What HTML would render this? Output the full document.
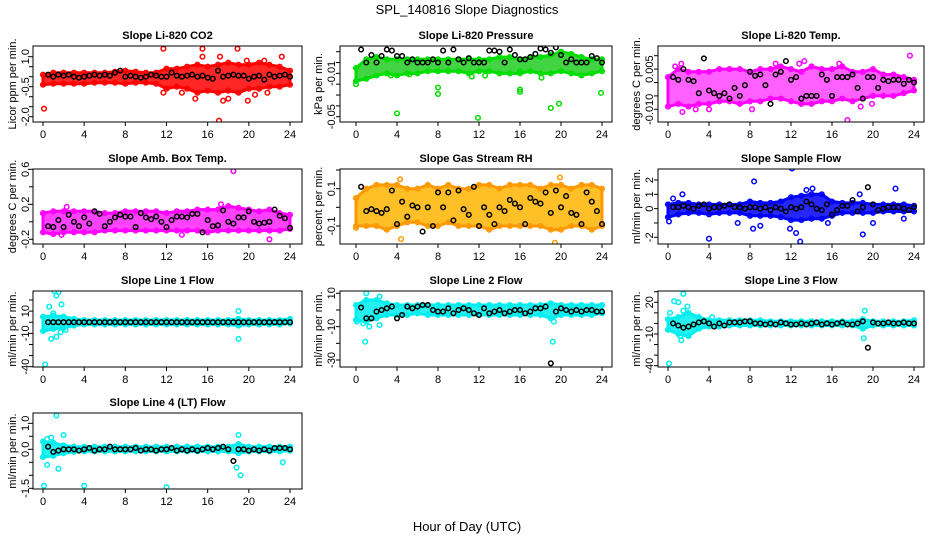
<!DOCTYPE html>
<html><head><meta charset="utf-8"><style>
body{margin:0;background:#fff}
svg{display:block;font-family:"Liberation Sans",sans-serif}
</style></head><body>
<svg id="c" width="936" height="540" xmlns="http://www.w3.org/2000/svg">
<rect width="936" height="540" fill="#fff"/>
<text x="467" y="14" font-size="13" text-anchor="middle">SPL_140816  Slope Diagnostics</text>
<text x="467" y="531" font-size="13" text-anchor="middle">Hour of Day (UTC)</text>
</svg>
<script>
const xTicks=[0,4,8,12,16,20,24];
const co2Lo=[-0.4,-0.35,-0.35,-0.35,-0.35,-0.3,-0.3,-0.3,-0.35,-0.3,-0.3,-0.35,-0.6,-0.5,-0.6,-0.8,-0.7,-0.8,-0.7,-0.8,-0.6,-0.6,-0.5,-0.5,-0.4];
const co2Hi=[0.1,0.2,0.2,0.2,0.2,0.2,0.2,0.25,0.3,0.25,0.2,0.2,0.4,0.4,0.5,0.6,0.5,0.6,0.7,0.6,0.6,0.7,0.6,0.5,0.3];
const co2Out=[[11.7,1.4],[15.5,1.4],[18.9,1.4],[17.1,-2.2],[0.1,-1.6],[15.5,1.0],[17.2,1.0],[11.7,-0.8],[13.5,-0.8],[14.8,-1.1],[17.5,-1.2],[18.0,-1.1],[19.9,-1.2],[20.6,-0.9],[21.8,-0.8],[23.2,1.0],[19.8,0.8],[21.5,0.8]];
const co2Blk=[0.1,0.0,0.1,0.05,0.1,0.0,-0.05,0.0,0.05,0.1,0.05,0.1,0.05,0.2,0.3,0.0,0.05,0.0,-0.05,0.0,0.1,0.05,0.0,0.0,0.2,0.05,0.0,0.05,0.1,0.0,0.05,-0.05,-0.1,0.3,0.0,0.05,0.1,0.05,0.05,-0.1,0.0,0.05,-0.15,0.1,0.0,0.05,0.1,0.0];
const presLo=[-0.017,-0.015,-0.012,-0.01,-0.012,-0.01,-0.01,-0.008,-0.008,-0.008,-0.008,-0.01,-0.008,-0.008,-0.01,-0.01,-0.01,-0.008,-0.01,-0.01,-0.008,-0.01,-0.012,-0.01,-0.008];
const presHi=[-0.005,0.003,0.005,0.003,0.003,0.003,0.003,0.003,0.003,0.003,0.003,0.003,0.003,0.003,0.005,0.005,0.003,0.005,0.005,0.007,0.01,0.008,0.005,0.003,0.003];
const presOut=[[0,-0.02],[4,-0.047],[8,-0.023],[8,-0.029],[11.9,-0.051],[16,-0.025],[16,-0.027],[19,-0.042],[19.8,-0.038],[23.9,-0.028],[3.4,-0.012],[5.2,-0.011],[11.3,-0.013],[12.6,-0.012],[18.1,-0.014],[16,-0.008]];
const presBlk=[0.012,0,0.007,0,0.006,0.012,0.011,0.006,0.006,0,0.003,0,0,0,0.003,0,0.011,0,0.012,0.003,0,0.004,0,0,0,0.011,0.011,0.010,0,0.012,0.007,0.003,0.003,0.005,0.008,0.013,0.012,0.009,0.014,0.007,0,0.003,0,0,0,0.006,0.004,0];
const tempLo=[-0.009,-0.008,-0.009,-0.008,-0.008,-0.007,-0.007,-0.008,-0.007,-0.007,-0.006,-0.006,-0.007,-0.008,-0.008,-0.007,-0.007,-0.006,-0.007,-0.006,-0.005,-0.005,-0.005,-0.004,-0.003];
const tempHi=[0.002,0.005,0.004,0.004,0.004,0.005,0.005,0.005,0.004,0.005,0.005,0.006,0.005,0.004,0.006,0.005,0.005,0.006,0.004,0.004,0.005,0.003,0.003,0.002,0.001];
const tempOut=[[1.4,-0.011],[2.7,-0.010],[4.0,-0.010],[8.2,-0.010],[17.5,-0.014],[23.6,0.010],[1.3,0.007],[0.7,0.006],[12.8,0.007],[13.3,0.008],[16.7,0.007],[18.8,-0.009],[19.9,-0.008],[10.5,0.007]];
const tempBlk=[0.002,0.001,0.005,0.001,0.0005,-0.004,0.009,-0.003,-0.004,-0.005,-0.004,-0.006,-0.002,-0.005,-0.001,0.004,0.0025,0.003,-0.001,-0.008,0.003,0.004,0.008,0.001,0.002,-0.006,-0.005,-0.005,-0.005,0.003,0.001,-0.005,0.002,0.002,0.002,0.003,-0.002,-0.006,0.002,0.002,-0.002,0.001,0.0005,0.001,0.001,-0.0005,0.001,0.0];
const ambLo=[-0.12,-0.14,-0.12,-0.12,-0.12,-0.12,-0.1,-0.1,-0.1,-0.1,-0.1,-0.1,-0.1,-0.1,-0.1,-0.1,-0.12,-0.1,-0.1,-0.1,-0.1,-0.1,-0.1,-0.1,-0.08];
const ambHi=[0.1,0.12,0.12,0.12,0.12,0.12,0.1,0.1,0.12,0.12,0.12,0.12,0.1,0.12,0.12,0.14,0.14,0.14,0.18,0.16,0.14,0.12,0.14,0.1,0.08];
const ambOut=[[18.5,0.58],[22,-0.2],[1.8,-0.15],[2.3,0.17],[13.5,-0.15],[17.3,0.2]];
const ambBlk=[-0.05,-0.06,0.02,-0.06,0.08,0.0,-0.05,0.05,-0.02,0.12,0.09,-0.05,0.0,0.05,0.08,0.06,0.06,-0.06,0.10,0.05,0.03,0.06,0.0,-0.06,0.02,0.06,0.06,0.05,0.09,0.09,-0.12,0.02,-0.05,-0.04,0.13,0.0,-0.02,0.05,0.05,0.12,0.0,-0.02,-0.01,0.0,0.14,0.07,0.04,-0.07];
const rhLo=[-0.1,-0.1,-0.1,-0.12,-0.1,-0.08,-0.08,-0.1,-0.1,-0.08,-0.1,-0.1,-0.1,-0.12,-0.1,-0.1,-0.1,-0.1,-0.1,-0.12,-0.12,-0.1,-0.1,-0.12,-0.1];
const rhHi=[0.05,0.1,0.12,0.12,0.12,0.1,0.1,0.12,0.1,0.12,0.1,0.1,0.12,0.12,0.1,0.12,0.12,0.12,0.1,0.12,0.12,0.1,0.12,0.12,0.1];
const rhOut=[[4.4,-0.17],[19.4,-0.19],[19.9,0.16],[4.3,0.15],[0.0,-0.11]];
const rhBlk=[0.11,-0.02,-0.01,-0.02,-0.03,-0.01,0.09,-0.09,0.03,-0.05,0.01,0.0,-0.13,0.0,-0.1,0.08,0.0,0.08,-0.07,0.09,-0.01,-0.04,0.11,-0.1,0.0,-0.04,-0.09,0.0,-0.02,0.04,0.02,0.0,-0.09,0.05,0.03,0.02,0.08,-0.03,0.09,0.0,0.06,-0.03,-0.04,-0.09,0.08,0.03,-0.02,-0.09];
const flowLo=[-0.6,-0.4,-0.3,-0.3,-0.4,-0.3,-0.3,-0.3,-0.5,-0.5,-0.5,-0.6,-0.8,-0.8,-0.7,-0.7,-0.5,-0.3,-0.3,-0.3,-0.3,-0.2,-0.2,-0.2,-0.2];
const flowHi=[0.3,0.4,0.4,0.3,0.3,0.3,0.3,0.3,0.5,0.4,0.4,0.5,0.8,0.9,1.0,1.0,0.5,0.4,0.4,0.4,0.3,0.3,0.3,0.3,0.2];
const flowOut=[[12.1,2.8],[4,-2.1],[12.9,-2.3],[8.4,1.9],[19,-1.8],[22.2,1.4],[0.1,-0.9],[0.5,0.7],[1.4,1.0],[8.3,-1.4],[9.0,-1.2],[12.5,-1.7],[13.5,1.3],[14.1,1.4],[15.6,-1.0],[20,-1.0],[23,-0.7],[6.8,-1.0],[18.7,1.0],[11.9,-1.4]];
const flowBlk=[0.1,0.1,0.2,0.1,0.0,0.2,0.3,0.0,0.1,0.1,0.2,0.3,0.1,0.1,0.0,0.1,0.1,0.0,0.1,-0.1,0.1,0.0,-0.2,0.1,0.0,0.1,0.5,0.3,0.0,-0.1,0.3,-0.4,-0.1,0.2,0.2,0.6,-0.2,0.1,1.5,0.3,-0.1,0.0,0.1,0.1,0.1,0.0,-0.1,0.1];
const l1Lo=[-8,-6,-5,-3,-2,-2,-2,-2,-2,-2,-2,-2,-2,-2,-2,-2,-2,-2,-2,-3,-2,-2,-2,-2,-1];
const l1Hi=[5,6,5,3,2,2,2,2,2,2,2,2,2,2,2,2,2,2,2,3,2,2,2,2,3];
const l1Out=[[0.2,-38],[0.6,14],[1.1,28],[1.5,27],[1.3,24],[1.8,16],[0.8,-15],[1.3,-13],[19,-15],[19,10],[2.2,-7],[1.7,-9],[1.0,8]];
const l1Blk=[0,0,0,0,0,0,0,0,0,0,0,0,0,0,0,0,0,0,0,0,0,0,0,0,0,0,0,0,0,0,0,0,0,0,0,0,0,0,0,0,0,0,0,0,0,0,0,0];
const l2Lo=[-6,-7,-5,-3,-3,-3,-2,-3,-3,-3,-3,-3,-3,-3,-3,-3,-3,-3,-3,-5,-3,-3,-3,-3,-2];
const l2Hi=[3,6,6,4,3,3,3,3,3,3,3,3,3,3,3,3,3,3,3,4,3,3,3,3,3];
const l2Out=[[1,10],[0.9,-19],[1.3,-10],[2.3,-9],[19.2,-19],[19.3,-7],[0.1,-7],[2.3,8],[0.7,-8]];
const l2Blk=[1.5,-5,-5,-1,0,1,2,-5,-3,2,1,2,3,3,0,-1,-1,1,-2,0,1,0,-2,-3,1,-2,-1,0,-2,-1,0,0,-2,-1,1,1,2,-32,-1,1,0,-1,0,-1,0,0,-1,-1];
const l3Lo=[-6,-10,-12,-5,-3,-3,-2,-2,-2,-2,-2,-2,-2,-2,-2,-2,-2,-2,-2,-5,-2,-2,-2,-2,-2];
const l3Hi=[4,6,10,6,3,3,3,3,3,3,2,2,2,2,2,2,2,2,2,4,2,2,2,2,3];
const l3Out=[[0.1,-38],[0.2,10],[0.6,21],[1.0,20],[1.5,28],[1.5,12],[1.9,16],[1.2,-12],[1.3,-16],[4.3,6],[19.2,12],[19.1,-14],[24,3]];
const l3Blk=[0,-2,-4,-3,-1,1,2,0,-3,0,-2,1,1,1,2,2,0,0,-1,0,-1,1,0,-1,-1,0,-1,0,1,-1,0,-1,0,1,-1,-1,0,2,-23,1,0,0,1,0,0,1,0,0];
const l4Lo=[-0.3,-0.25,-0.15,-0.1,-0.08,-0.08,-0.08,-0.08,-0.08,-0.08,-0.08,-0.08,-0.08,-0.08,-0.08,-0.08,-0.08,-0.08,-0.08,-0.15,-0.08,-0.08,-0.08,-0.08,-0.05];
const l4Hi=[0.3,0.25,0.15,0.1,0.1,0.1,0.1,0.1,0.1,0.1,0.1,0.1,0.1,0.1,0.1,0.1,0.1,0.1,0.1,0.2,0.1,0.1,0.1,0.1,0.1];
const l4Out=[[0.1,-1.4],[1.3,1.3],[4,-1.4],[12,-1.45],[1.5,-0.75],[0.4,-0.6],[2.0,0.55],[0.8,0.45],[19,0.55],[19.2,-1.0],[18.8,-0.7],[23.3,-0.5],[0.4,0.4]];
const l4Blk=[0.1,-0.1,-0.05,0.0,0.0,0.0,-0.05,0.0,0.05,-0.05,0.0,0.0,0.1,0.0,0.0,0.0,0.0,0.05,-0.05,0.0,0.0,-0.05,0.0,0.0,0.05,-0.05,0.0,-0.05,0.0,-0.05,0.0,0.05,0.0,0.05,0.1,0.0,-0.45,0.0,0.0,-0.05,0.0,-0.05,0.0,-0.05,0.05,0.05,0.05,0.0];

const NS='http://www.w3.org/2000/svg';
const svg=document.getElementById('c');
const cols=[{bl:33,br:302,x0:43,x1:290,yl:16,tl:29},{bl:340,br:612,x0:356,x1:602,yl:322,tl:335},{bl:658,br:924,x0:668,x1:914,yl:640,tl:653}];
const rows=[{t:46,b:122},{t:169,b:244},{t:291,b:367},{t:413,b:489}];
function mk(tag,attrs,parent){const e=document.createElementNS(NS,tag);for(const k in attrs)e.setAttribute(k,attrs[k]);(parent||svg).appendChild(e);return e;}
const panels=[
{id:'co2',r:0,c:0,title:'Slope Li-820 CO2',ylab:'Licor ppm per min.',v0:1.0,p0:56.7,v1:-2.0,p1:116.7,ticks:[1,0.5,0,-0.5,-1,-1.5,-2],labs:['1.0','-0.5','-2.0'],labv:[1,-0.5,-2],col:'#ff0000',fill:'#ff0000',lo:co2Lo,hi:co2Hi,out:co2Out,blk:co2Blk},
{id:'pressure',r:0,c:1,title:'Slope Li-820 Pressure',ylab:'kPa per min.',v0:0.01,p0:51.7,v1:-0.05,p1:116.7,ticks:[0.01,0,-0.01,-0.02,-0.03,-0.04,-0.05],labs:['-0.01','-0.05'],labv:[-0.01,-0.05],col:'#00dd00',fill:'#22cc22',lo:presLo,hi:presHi,out:presOut,blk:presBlk},
{id:'temp',r:0,c:2,title:'Slope Li-820 Temp.',ylab:'degrees C per min.',v0:0.01,p0:55.7,v1:-0.01,p1:109.3,ticks:[0.01,0.005,0,-0.005,-0.01],labs:['0.005','-0.010'],labv:[0.005,-0.01],col:'#ff00ff',fill:'#ff44ff',lo:tempLo,hi:tempHi,out:tempOut,blk:tempBlk},
{id:'amb-temp',r:1,c:0,title:'Slope Amb. Box Temp.',ylab:'degrees C per min.',v0:0.6,p0:169.3,v1:-0.2,p1:239.3,ticks:[0.6,0.4,0.2,0,-0.2],labs:['0.6','0.2','-0.2'],labv:[0.6,0.2,-0.2],col:'#ff00ff',fill:'#ff22ff',lo:ambLo,hi:ambHi,out:ambOut,blk:ambBlk},
{id:'rh',r:1,c:1,title:'Slope Gas Stream RH',ylab:'percent per min.',v0:0.2,p0:170,v1:-0.1,p1:226,ticks:[0.2,0.1,0,-0.1],labs:['0.1','-0.1'],labv:[0.1,-0.1],col:'#ff9900',fill:'#ffb400',lo:rhLo,hi:rhHi,out:rhOut,blk:rhBlk},
{id:'sample-flow',r:1,c:2,title:'Slope Sample Flow',ylab:'ml/min per min.',v0:2,p0:180,v1:-2,p1:237.3,ticks:[2,1,0,-1,-2],labs:['2','1','0','-2'],labv:[2,1,0,-2],col:'#0000ff',fill:'#0000ff',lo:flowLo,hi:flowHi,out:flowOut,blk:flowBlk},
{id:'line1-flow',r:2,c:0,title:'Slope Line 1 Flow',ylab:'ml/min per min.',v0:20,p0:300,v1:-40,p1:366.7,ticks:[20,10,0,-10,-20,-30,-40],labs:['10','-10','-40'],labv:[10,-10,-40],col:'#00eeee',fill:'#00eeee',lo:l1Lo,hi:l1Hi,out:l1Out,blk:l1Blk},
{id:'line2-flow',r:2,c:1,title:'Slope Line 2 Flow',ylab:'ml/min per min.',v0:10,p0:293.3,v1:-30,p1:360,ticks:[10,0,-10,-20,-30],labs:['10','-10','-30'],labv:[10,-10,-30],col:'#00eeee',fill:'#00eeee',lo:l2Lo,hi:l2Hi,out:l2Out,blk:l2Blk},
{id:'line3-flow',r:2,c:2,title:'Slope Line 3 Flow',ylab:'ml/min per min.',v0:20,p0:302.3,v1:-40,p1:365.7,ticks:[30,20,10,0,-10,-20,-30,-40],labs:['20','-10','-40'],labv:[20,-10,-40],col:'#00eeee',fill:'#00eeee',lo:l3Lo,hi:l3Hi,out:l3Out,blk:l3Blk},
{id:'line4-flow',r:3,c:0,title:'Slope Line 4 (LT) Flow',ylab:'ml/min per min.',v0:1.0,p0:423.3,v1:-1.5,p1:488.3,ticks:[1,0.5,0,-0.5,-1,-1.5],labs:['1.0','0.0','-1.5'],labv:[1,0,-1.5],col:'#00eeee',fill:'#00eeee',lo:l4Lo,hi:l4Hi,out:l4Out,blk:l4Blk}
];
panels.forEach(p=>{
  const C=cols[p.c],R=rows[p.r];
  const g=mk('g',{});
  
  
  const xs=v=>C.x0+(C.x1-C.x0)*v/24;
  const ys=v=>p.p0+(p.p1-p.p0)*(v-p.v0)/(p.v1-p.v0);
  const cp='clip-'+p.id;
  const cl=mk('clipPath',{id:cp},g);mk('rect',{x:C.bl,y:R.t,width:C.br-C.bl,height:R.b-R.t},cl);
  const pg=mk('g',{'clip-path':'url(#'+cp+')'},g);
  let d='';p.hi.forEach((v,i)=>{d+=(i?'L':'M')+xs(i).toFixed(1)+','+ys(v).toFixed(1);});
  for(let i=p.lo.length-1;i>=0;i--)d+='L'+xs(i).toFixed(1)+','+ys(p.lo[i]).toFixed(1);
  const band=mk('path',{d:d+'Z',fill:p.fill,'fill-opacity':0.85,stroke:p.col,'stroke-width':3,'stroke-linejoin':'round'},pg);
  
  
  const circ=(x,y,col,nm)=>{const e=mk('circle',{cx:xs(x).toFixed(1),cy:ys(y).toFixed(1),r:2.3,fill:'none',stroke:col,'stroke-width':1.5},pg);
    
    };
  p.lo.forEach((v,i)=>{circ(i,v,p.col,p.id+'-point');circ(i,p.hi[i],p.col,p.id+'-point');});
  p.out.forEach(o=>circ(o[0],o[1],p.col,p.id+'-outlier'));
  p.blk.forEach((v,i)=>circ(0.5+i*0.5,v,'#000',p.id+'-mean-point'));
  const box=mk('rect',{x:C.bl,y:R.t,width:C.br-C.bl,height:R.b-R.t,fill:'none',stroke:'#000','stroke-width':1},g);
  
  
  const t=mk('text',{x:(C.bl+C.br)/2,y:R.t-7,'font-size':11,'font-weight':'bold','text-anchor':'middle'},g);t.textContent=p.title;
  
  
  const yl=mk('text',{transform:`translate(${C.yl},${(R.t+R.b)/2}) rotate(-90)`,'font-size':11,'text-anchor':'middle'},g);yl.textContent=p.ylab;
  
  
  p.ticks.forEach(v=>{mk('line',{x1:C.bl-4,x2:C.bl,y1:ys(v),y2:ys(v),stroke:'#000'},g);});
  p.labs.forEach((s,i)=>{const e=mk('text',{transform:`translate(${C.tl},${ys(p.labv[i])}) rotate(-90)`,'font-size':11,'text-anchor':'middle'},g);e.textContent=s;
    
    });
  xTicks.forEach(v=>{mk('line',{x1:xs(v),x2:xs(v),y1:R.b,y2:R.b+4,stroke:'#000'},g);
    const e=mk('text',{x:xs(v),y:R.b+16,'font-size':11,'text-anchor':'middle'},g);e.textContent=v;
    
    });
});
</script>
</body></html>
